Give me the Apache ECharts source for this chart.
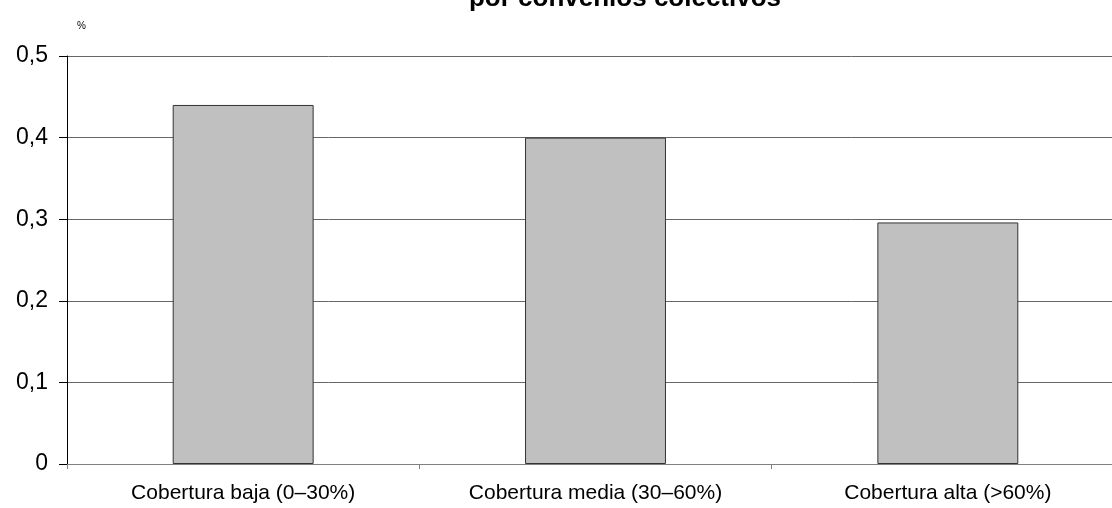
<!DOCTYPE html>
<html>
<head>
<meta charset="utf-8">
<script src="https://cdn.jsdelivr.net/npm/echarts@6/dist/echarts.min.js"></script>
<style>
  html, body { margin: 0; padding: 0; background: #fff; }
  #chart { width: 1112px; height: 508px; }
</style>
</head>
<body>
<div id="chart"></div>
<script>
// datos
const categories = ['Cobertura baja (0–30%)', 'Cobertura media (30–60%)', 'Cobertura alta (>60%)'];
const values = [0.44, 0.40, 0.296];
const yTicks = [0, 0.1, 0.2, 0.3, 0.4, 0.5];

const chart = echarts.init(document.getElementById('chart'));
const opt = {
  animation: false,
  textStyle: { fontFamily: 'Liberation Sans, Arial, sans-serif' },
  title: [
    {
      text: 'por convenios colectivos',
      left: 620,
      textAlign: 'center',
      top: -19,
      textStyle: { fontSize: 26, fontWeight: 'bold', color: '#000' }
    },
    {
      text: '%',
      left: 72,
      top: 16,
      textStyle: { fontSize: 10, fontWeight: 'normal', color: '#000' }
    }
  ],
  // la zona del gráfico sigue más allá del borde derecho
  grid: {
    left: 67, width: 1057, top: 56, bottom: 44,
    containLabel: false,
    outerBoundsMode: 'none'
  },
  xAxis: {
    type: 'category',
    data: categories,
    axisLine: { show: true, lineStyle: { color: '#808080', width: 1 } },
    axisTick: { show: true, length: 5, lineStyle: { color: '#808080' } },
    axisLabel: { color: '#000', fontSize: 21, margin: 19 }
  },
  yAxis: {
    type: 'value',
    min: yTicks[0],
    max: yTicks[yTicks.length - 1],
    interval: 0.1,
    axisLine: { show: true, lineStyle: { color: '#000', width: 1 } },
    axisTick: { show: true, length: 8, lineStyle: { color: '#000' } },
    axisLabel: {
      color: '#000',
      fontSize: 23,
      margin: 19,
      formatter: v => String(Math.round(v * 10) / 10).replace('.', ',')
    },
    splitLine: { show: true, lineStyle: { color: '#666', width: 1 } }
  },
  series: [
    {
      type: 'bar',
      data: values,
      barWidth: '40%',
      itemStyle: { color: '#c0c0c0', borderColor: '#333', borderWidth: 1 }
    }
  ]
};
chart.setOption(opt);
</script>
</body>
</html>
